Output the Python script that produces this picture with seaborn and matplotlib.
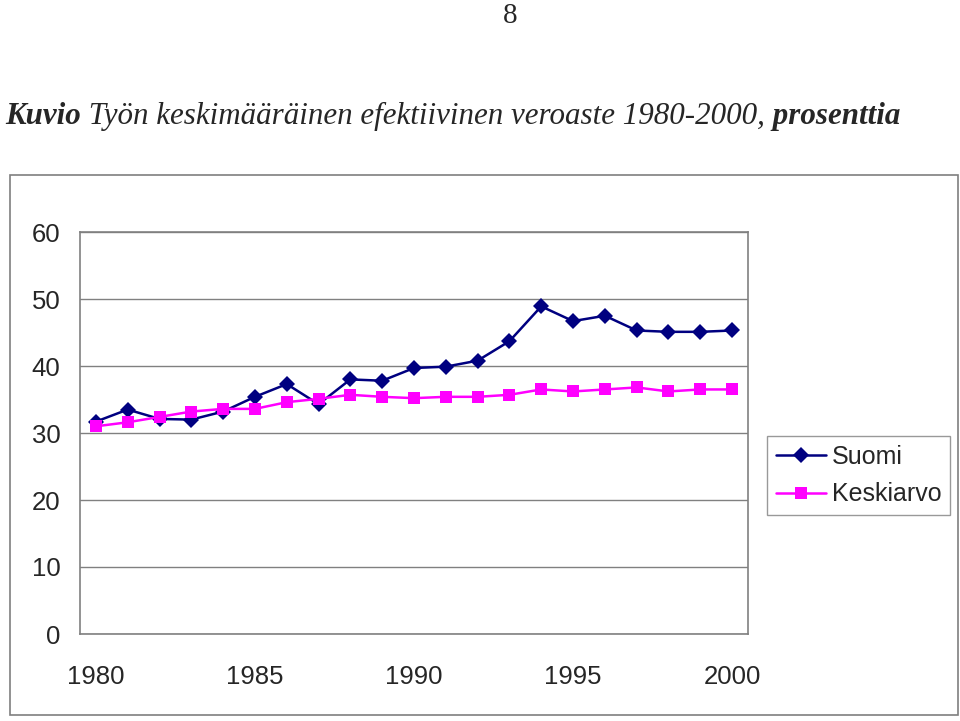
import pandas as pd
import matplotlib
matplotlib.use("Agg")
import matplotlib.pyplot as plt
import seaborn as sns
from matplotlib.patches import Rectangle

# data
years = list(range(1980, 2001))
suomi = [31.7, 33.5, 32.1, 32.0, 33.2, 35.4, 37.3, 34.3, 38.0, 37.8, 39.7,
         39.9, 40.8, 43.7, 48.9, 46.7, 47.5, 45.3, 45.1, 45.1, 45.3]
keskiarvo = [31.0, 31.6, 32.4, 33.2, 33.6, 33.6, 34.6, 35.1, 35.7, 35.4, 35.2,
             35.4, 35.4, 35.7, 36.5, 36.2, 36.5, 36.8, 36.2, 36.5, 36.5]
series_names = ["Suomi", "Keskiarvo"]
year_labels = [1980, 1985, 1990, 1995, 2000]
y_ticks = [0, 10, 20, 30, 40, 50, 60]

title_parts = [("Kuvio", "bold"), (" Työn keskimääräinen efektiivinen veroaste 1980-2000,", "normal"),
               (" prosenttia", "bold")]


def build_frame():
    """Long-form table for seaborn."""
    return pd.DataFrame({
        "year": years * 2,
        "value": suomi + keskiarvo,
        "series": [series_names[0]] * len(years) + [series_names[1]] * len(years),
    })


def main():
    sns.set_style("white")
    plt.rcParams["font.family"] = ["Liberation Sans", "DejaVu Sans"]

    W, H = 960, 721
    fig = plt.figure(figsize=(9.6, 7.21), dpi=100)

    # outer chart border
    fig.patches.append(Rectangle((10 / W, 1 - 715 / H), 948 / W, 540 / H,
                                 transform=fig.transFigure, fill=False,
                                 edgecolor="#7f7f7f", linewidth=1.2))

    # page number
    fig.text(510 / W, 1 - 16 / H, "8", family="Liberation Serif", fontsize=21,
             ha="center", va="center")

    # title in mixed styles
    renderer = fig.canvas.get_renderer()
    x = 5 / W
    for txt, weight in title_parts:
        t = fig.text(x, 1 - 124 / H, txt, family="Liberation Serif", style="italic",
                     weight=weight, fontsize=22.3, va="baseline", ha="left")
        bb = t.get_window_extent(renderer=renderer)
        x = bb.x1 / W

    ax = fig.add_axes([80 / W, 1 - 634 / H, 668 / W, 402 / H])
    df = build_frame()
    sns.lineplot(data=df, x="year", y="value", hue="series", style="series",
                 palette={"Suomi": "#000080", "Keskiarvo": "#ff00ff"},
                 markers={"Suomi": "D", "Keskiarvo": "s"}, dashes=False,
                 markersize=8.5, markeredgewidth=0, linewidth=1.8, ax=ax)

    ax.set_xlim(years[0] - 0.5, years[-1] + 0.5)
    ax.set_ylim(0, 60)
    ax.set_yticks(y_ticks)
    ax.set_xticks(year_labels)
    ax.set_xticks([y - 0.5 for y in years] + [years[-1] + 0.5], minor=True)
    ax.tick_params(axis="x", which="major", length=0, pad=22, labelsize=18.5)
    ax.tick_params(axis="x", which="minor", length=6, color="#7f7f7f", direction="out")
    ax.tick_params(axis="y", length=6, color="#7f7f7f", direction="out", pad=8, labelsize=18.5)
    ax.set_xlabel("")
    ax.set_ylabel("")
    ax.yaxis.grid(True, color="#808080", linewidth=1)
    for side in ["left", "bottom", "right", "top"]:
        ax.spines[side].set_color("#808080")
        ax.spines[side].set_linewidth(1.2)

    handles, labels = ax.get_legend_handles_labels()
    leg = ax.legend(handles, labels, loc="upper left",
                    bbox_to_anchor=(767 / W, 1 - 436 / H), bbox_transform=fig.transFigure,
                    borderaxespad=0, fontsize=18, frameon=True, fancybox=False,
                    edgecolor="#808080", handlelength=2.0, handletextpad=0.25,
                    labelspacing=0.55, borderpad=0.35)
    leg.get_frame().set_linewidth(1)

    fig.savefig("out.png", dpi=100)


if __name__ == "__main__":
    main()
